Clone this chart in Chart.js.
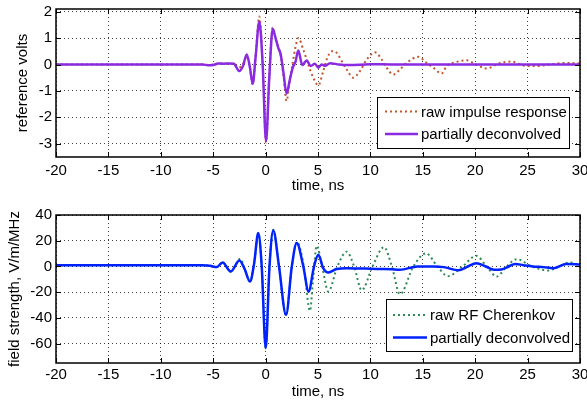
<!DOCTYPE html>
<html>
<head>
<meta charset="utf-8">
<script src="https://cdn.jsdelivr.net/npm/chart.js@4"></script>
<style>
  body { margin: 0; background: #fff; overflow: hidden; }
  .panel { position: absolute; left: 0; width: 587px; }
</style>
</head>
<body>
<div class="panel" style="top:0;height:200px"><canvas id="topChart"></canvas></div>
<div class="panel" style="top:200px;height:202px"><canvas id="botChart"></canvas></div>
<script>
// axis ticks
const xTicks = [-20, -15, -10, -5, 0, 5, 10, 15, 20, 25, 30];
const topYTicks = [-3, -2, -1, 0, 1, 2];
const botYTicks = [-60, -40, -20, 0, 20, 40];

// top panel: reference pulse (volts vs ns)
const impRawT = [-20, -6, -5.5, -5, -4.5, -3.5, -3, -2.6, -2.2, -1.8, -1.5, -1.23, -0.95, -0.6, -0.28, 0.04, 0.35,
  0.68, 0.95, 1.21, 1.44, 1.7, 2.0, 2.3, 2.6, 2.85, 3.12, 3.6, 4.07, 4.55, 5.03, 5.5, 5.83, 6.3, 6.78, 7.26,
  7.74, 8.37, 9.0, 9.65, 10.44, 11.08, 11.55, 12.19, 12.82, 13.46, 14.57, 15.37, 16.0, 16.8, 17.28, 18.23,
  19.19, 19.8, 21.1, 22.37, 23.5, 24.6, 25.87, 27.1, 28.7, 30];
const impRawV = [0, 0, -0.02, 0, 0.03, 0.03, 0.02, -0.12, -0.02, 0.3, -0.1, -0.75, 0.35, 1.82, 0.05, -2.95, -0.5,
  1.4, 1.0, 0.65, 0.35, -0.4, -1.38, -0.6, 0.1, 0.65, 1.0, 0.56, 0, -0.5, -0.79, -0.25, 0.19, 0.5, 0.44, 0.13,
  -0.19, -0.5, -0.25, 0.19, 0.46, 0.19, -0.12, -0.38, -0.19, 0.06, 0.29, 0.06, -0.12, -0.34, -0.06, 0.1,
  0.16, 0.06, -0.15, 0.06, 0.11, -0.04, -0.06, 0, 0.06, 0.04];
const impDecT = [-20, -6, -5.5, -5, -4.5, -4, -3.5, -3, -2.8, -2.5, -2.15, -1.8, -1.5, -1.23, -0.95, -0.6, -0.28,
  0.04, 0.35, 0.68, 0.95, 1.21, 1.44, 1.7, 2.0, 2.3, 2.5, 2.65, 2.85, 3.12, 3.5, 3.92, 4.3, 4.7, 5.03, 5.35,
  5.67, 6.15, 7, 8, 10, 12, 15, 20, 25, 30];
const impDecV = [0, 0, -0.03, -0.02, 0.04, 0.03, 0.04, 0.03, -0.1, -0.25, -0.05, 0.38, -0.1, -0.73, 0.3, 1.63, 0,
  -2.9, -0.5, 1.35, 1.0, 0.63, 0.38, -0.3, -1.1, -0.6, -0.25, -0.06, 0.1, 0.53, -0.02, 0.15, -0.06, 0.03, -0.12, 0,
  -0.05, 0.05, 0, -0.02, 0.01, 0, 0, 0, 0, 0];

// bottom panel: field strength (V/m/MHz vs ns)
const rfRawT = [-20, -6, -5.3, -4.67, -4.1, -3.33, -2.4, -2.0, -1.49, -1.1, -0.7, -0.37, 0.01, 0.37, 0.73, 1.28,
  1.95, 2.5, 3.0, 3.65, 4.23, 4.55, 4.87, 5.4, 5.98, 6.85, 7.74, 8.45, 9.17, 10.2, 11.3, 12.05, 12.82, 14.1,
  15.3, 16.4, 17.4, 18.8, 20.1, 21.1, 22.05, 23.0, 23.96, 25.4, 26.98, 28.0, 29.05, 30];
const rfRawV = [1, 1, 0.5, -0.5, 3.1, -3.9, 6, -2, -11.7, 2, 26, 0, -63.5, 0, 28.5, 0,
  -38, 0, 19, 0, -34.5, -8, 16, 0, -19.5, 0, 11.5, 0, -18.5, 0, 15, 0, -21.5, 0,
  10.2, 0, -7.5, 0, 8.3, 0, -7.8, 0, 5.7, 0, -3.1, 0, 3.1, 1];
const rfDecT = [-20, -6, -5.3, -4.67, -4.1, -3.33, -2.5, -2.0, -1.49, -1.1, -0.7, -0.37, 0.01, 0.37, 0.73, 1.28,
  1.95, 2.5, 2.97, 3.6, 4.1, 4.62, 5.03, 5.5, 5.98, 6.78, 7.74, 9, 10, 11, 12, 12.8, 14.5, 16, 17, 18.4, 19.3,
  20.1, 21, 21.8, 22.5, 23.2, 23.8, 24.6, 25.5, 26.5, 27.45, 28.7, 30];
const rfDecV = [1, 1, 0.5, -0.5, 3.1, -3.9, 4.7, -2, -11.7, 2, 26, 0, -63.5, 0, 28, 0,
  -37.6, 0, 18.2, 0, -19.5, 0, 9.1, -1.3, -4.7, -2, -1.3, -1.5, -1.8, -2, -2.2, -2.6, 0, 0, -0.5, -3, 0,
  2.6, 0, -2.6, -2.3, 0, 2, 1, 0, -0.5, -1.3, 2, 1.5];

Chart.defaults.font.family = '"Liberation Sans", Arial, Helvetica, sans-serif';
Chart.defaults.font.size = 15;
Chart.defaults.color = '#000';

const pts = (ts, vs) => ts.map((t, i) => ({ x: t, y: vs[i] }));

// box round the plot, inward tick marks, legend inside the axes
const framePlugin = {
  id: 'frame',
  afterDatasetsDraw(chart, args, opts) {
    const { ctx, chartArea: a, scales } = chart;
    ctx.save();
    ctx.strokeStyle = '#000';
    ctx.lineWidth = 1;
    ctx.beginPath();
    opts.xTicks.forEach(v => {
      const px = Math.round(scales.x.getPixelForValue(v)) + 0.5;
      ctx.moveTo(px, a.top); ctx.lineTo(px, a.top + 5);
      ctx.moveTo(px, a.bottom); ctx.lineTo(px, a.bottom - 5);
    });
    opts.yTicks.forEach(v => {
      const py = Math.round(scales.y.getPixelForValue(v)) + 0.5;
      ctx.moveTo(a.left, py); ctx.lineTo(a.left + 5, py);
      ctx.moveTo(a.right, py); ctx.lineTo(a.right - 5, py);
    });
    ctx.stroke();
    ctx.lineWidth = 1.5;
    ctx.strokeRect(a.left, a.top, a.right - a.left, a.bottom - a.top);

    // legend: raw trace first, deconvolved second
    const L = opts.legend;
    ctx.fillStyle = '#fff';
    ctx.fillRect(L.x, L.y, L.w, L.h);
    ctx.lineWidth = 1;
    ctx.strokeRect(L.x + 0.5, L.y + 0.5, L.w, L.h);
    ctx.font = '15px "Liberation Sans", Arial, sans-serif';
    ctx.textBaseline = 'middle';
    chart.data.datasets.slice().reverse().forEach((ds, i) => {
      const y = L.y + L.row0 + i * L.rowGap;
      ctx.strokeStyle = ds.borderColor;
      ctx.lineWidth = ds.borderWidth;
      ctx.setLineDash(ds.borderDash || []);
      ctx.beginPath();
      ctx.moveTo(L.x + L.lineX0, y); ctx.lineTo(L.x + L.lineX1, y);
      ctx.stroke();
      ctx.setLineDash([]);
      ctx.fillStyle = '#000';
      ctx.fillText(ds.label, L.x + L.textX, y + 1);
    });
    ctx.restore();
  }
};

function panel(id, p) {
  return new Chart(document.getElementById(id), {
    type: 'line',
    data: {
      datasets: [
        { label: 'partially deconvolved', data: pts(p.decT, p.decV), borderColor: p.decColor,
          borderWidth: 2.5, pointRadius: 0, cubicInterpolationMode: 'monotone' },
        { label: p.rawLabel, data: pts(p.rawT, p.rawV), borderColor: p.rawColor,
          borderWidth: 2, borderDash: [2, 3], pointRadius: 0, cubicInterpolationMode: 'monotone' },
      ],
    },
    options: {
      responsive: true, maintainAspectRatio: false, animation: false,
      layout: { padding: { left: p.padLeft, right: 7, top: p.padTop, bottom: 0 } },
      plugins: { legend: { display: false }, tooltip: { enabled: false },
        frame: { xTicks, yTicks: p.yTicks, legend: p.legend } },
      scales: {
        x: {
          type: 'linear', min: -20, max: 30,
          afterBuildTicks: s => { s.ticks = xTicks.map(v => ({ value: v })); },
          afterFit: s => { s.height = p.xHeight; s.paddingLeft = 0; s.paddingRight = 0; },
          ticks: { padding: p.xTickPad, maxRotation: 0, autoSkip: false },
          grid: { color: 'rgba(0,0,0,0.75)', lineWidth: 1, drawTicks: false },
          border: { display: false, dash: [1, 3] },
          title: { display: true, text: 'time, ns', padding: { top: 0, bottom: p.xTitlePad } },
        },
        y: {
          type: 'linear', min: p.yMin, max: p.yMax,
          afterBuildTicks: s => { s.ticks = p.yTicks.map(v => ({ value: v })); },
          afterFit: s => { s.width = 56 - p.padLeft; s.paddingTop = 0; s.paddingBottom = 0; },
          ticks: { padding: 4, autoSkip: false },
          grid: { color: 'rgba(0,0,0,0.75)', lineWidth: 1, drawTicks: false },
          border: { display: false, dash: [1, 3] },
          title: { display: true, text: p.yTitle, padding: { top: 4, bottom: 0 } },
        },
      },
    },
    plugins: [framePlugin],
  });
}

panel('topChart', {
  rawT: impRawT, rawV: impRawV, decT: impDecT, decV: impDecV,
  rawLabel: 'raw impulse response', rawColor: '#c2552a', decColor: '#8a2be2',
  yMin: -3.5, yMax: 2.1, yTicks: topYTicks, yTitle: 'reference volts',
  padLeft: 10, padTop: 9, xHeight: 43, xTickPad: 5, xTitlePad: 5,
  legend: { x: 377, y: 97, w: 192, h: 51, row0: 14.5, rowGap: 22.5, lineX0: 8, lineX1: 41, textX: 44 },
});

panel('botChart', {
  rawT: rfRawT, rawV: rfRawV, decT: rfDecT, decV: rfDecV,
  rawLabel: 'raw RF Cherenkov', rawColor: '#2e8b57', decColor: '#0022ff',
  yMin: -75, yMax: 40, yTicks: botYTicks, yTitle: 'field strength, V/m/MHz',
  padLeft: 2, padTop: 15, xHeight: 39, xTickPad: 3, xTitlePad: 1,
  legend: { x: 386, y: 99, w: 186, h: 52, row0: 16, rowGap: 22.5, lineX0: 7, lineX1: 41, textX: 44 },
});
</script>
</body>
</html>
